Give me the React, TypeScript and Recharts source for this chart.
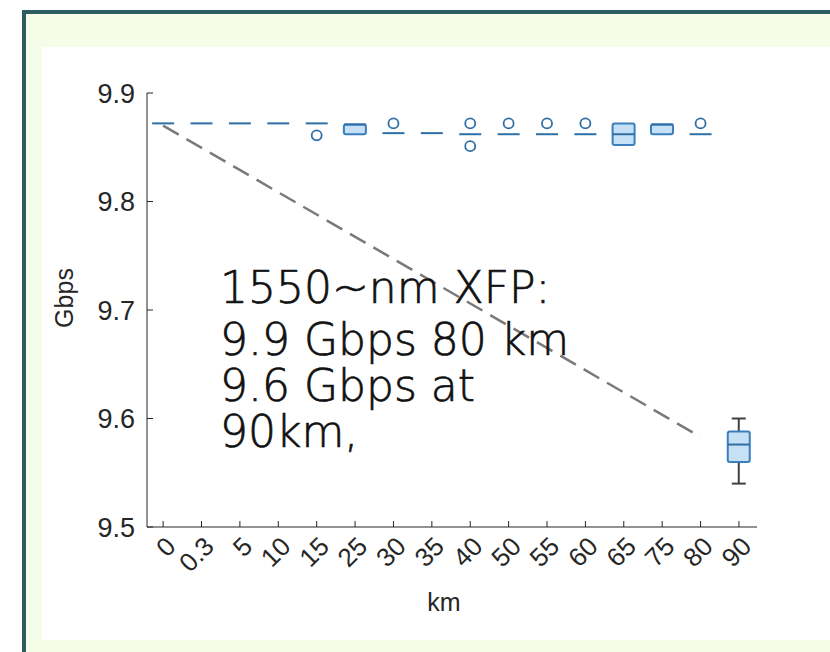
import { ComposedChart, XAxis, YAxis, Bar, Scatter, Line } from 'recharts';

// km categories along the x axis
const kmLabels = ['0', '0.3', '5', '10', '15', '25', '30', '35', '40', '50', '55', '60', '65', '75', '80', '90'];

// box plot statistics (Gbps) per category
const whiskerLow = [9.872, 9.872, 9.872, 9.872, 9.872, 9.862, 9.863, 9.863, 9.862, 9.862, 9.862, 9.862, 9.852, 9.862, 9.862, 9.54];
const boxQ1 = [9.872, 9.872, 9.872, 9.872, 9.872, 9.862, 9.863, 9.863, 9.862, 9.862, 9.862, 9.862, 9.852, 9.862, 9.862, 9.56];
const medians = [9.872, 9.872, 9.872, 9.872, 9.872, 9.871, 9.863, 9.863, 9.862, 9.862, 9.862, 9.862, 9.862, 9.871, 9.862, 9.576];
const boxQ3 = [9.872, 9.872, 9.872, 9.872, 9.872, 9.871, 9.863, 9.863, 9.862, 9.862, 9.862, 9.862, 9.872, 9.871, 9.862, 9.588];
const whiskerHigh = [9.872, 9.872, 9.872, 9.872, 9.872, 9.871, 9.863, 9.863, 9.862, 9.862, 9.862, 9.862, 9.872, 9.871, 9.862, 9.6];

// outliers: category index + value
const outlierIdx = [4, 6, 8, 8, 9, 10, 11, 14];
const outlierVal = [9.861, 9.872, 9.872, 9.851, 9.872, 9.872, 9.872, 9.872];

// dashed trend line
const trendIdx = [0, 14];
const trendVal = [9.87, 9.583];

const yTicks = [9.5, 9.6, 9.7, 9.8, 9.9];
const noteLines = ['1550~nm XFP:', '9.9 Gbps 80 km', '9.6 Gbps at', '90km,'];
const noteBaselines = [256, 308, 354, 400];

const rows = kmLabels.map((km, i) => ({
  idx: i,
  km,
  lo: whiskerLow[i],
  q1: boxQ1[i],
  median: medians[i],
  q3: boxQ3[i],
  hi: whiskerHigh[i],
}));
const outliers = outlierIdx.map((idx, i) => ({ idx, v: outlierVal[i] }));
const trend = trendIdx.map((idx, i) => ({ idx, v: trendVal[i] }));

const BLUE = '#3a7fbd';
const FILL = '#c6e0f5';
const AXIS = '#262626';
const FONT = '"Liberation Sans", Arial, sans-serif';

const BoxShape = (props: any) => {
  const { x, y, width, height, payload } = props;
  const { lo, q1, q3, hi } = payload;
  if (!(hi > lo)) return null;
  const top = Math.min(y, y + height);
  const h = Math.abs(height);
  const py = (v: number) => top + (h * (hi - v)) / (hi - lo);
  const cx = x + width / 2;
  const capW = 7;
  return (
    <g>
      {hi > q3 && (
        <g stroke="#404040" strokeWidth={2}>
          <line x1={cx} x2={cx} y1={py(hi)} y2={py(q3)} />
          <line x1={cx - capW} x2={cx + capW} y1={py(hi)} y2={py(hi)} />
        </g>
      )}
      {q1 > lo && (
        <g stroke="#404040" strokeWidth={2}>
          <line x1={cx} x2={cx} y1={py(q1)} y2={py(lo)} />
          <line x1={cx - capW} x2={cx + capW} y1={py(lo)} y2={py(lo)} />
        </g>
      )}
      <rect x={x} y={py(q3)} width={width} height={py(q1) - py(q3)} rx={2} fill={FILL} stroke={BLUE} strokeWidth={2} />
    </g>
  );
};

const MedianShape = (props: any) => {
  const { cx, cy } = props;
  return <line x1={cx - 11} x2={cx + 11} y1={cy} y2={cy} stroke="#2f6fa8" strokeWidth={2} />;
};

const OutlierShape = (props: any) => {
  const { cx, cy } = props;
  return <circle cx={cx} cy={cy} r={5} fill="none" stroke="#2f6fa8" strokeWidth={1.8} />;
};

const XTick = (props: any) => {
  const { x, y, payload } = props;
  const tx = x + 14;
  const ty = y + 15;
  return (
    <text x={tx} y={ty} transform={`rotate(-45 ${tx} ${ty})`} textAnchor="end" fill={AXIS} fontSize={26} fontFamily={FONT}>
      {kmLabels[payload.value]}
    </text>
  );
};

const GbpsLabel = (props: any) => {
  const { viewBox } = props;
  const lx = viewBox.x + 22;
  const ly = viewBox.y + viewBox.height / 2 - 12;
  return (
    <text x={lx} y={ly} transform={`rotate(-90 ${lx} ${ly})`} textAnchor="middle" dominantBaseline="central" fill={AXIS} fontSize={25} fontFamily={FONT}>
      Gbps
    </text>
  );
};

export default function App() {
  return (
    <div style={{ position: 'fixed', left: 0, top: 0, width: 830, height: 652, background: '#fff', overflow: 'hidden' }}>
      <div style={{ position: 'absolute', left: 22, top: 10, width: 820, height: 660, background: '#2c5d61' }} />
      <div style={{ position: 'absolute', left: 26, top: 14, width: 820, height: 660, background: '#f5fde9' }} />
      <div style={{ position: 'absolute', left: 42, top: 47, width: 788, height: 593, background: '#fff' }}>
        <ComposedChart width={788} height={593} data={rows} margin={{ top: 46, right: 73, bottom: 13, left: 0 }}>
          <XAxis
            dataKey="idx"
            type="number"
            domain={[-0.42, 15.47]}
            ticks={kmLabels.map((_, i) => i)}
            interval={0}
            allowDataOverflow
            height={100}
            tickSize={-6}
            tickMargin={12}
            stroke={AXIS}
            tick={<XTick />}
            label={{ value: 'km', position: 'insideBottom', offset: 16, dx: -8, fill: AXIS, fontSize: 25, fontFamily: FONT }}
          />
          <YAxis
            type="number"
            domain={[9.5, 9.9]}
            ticks={yTicks}
            allowDataOverflow
            width={105}
            tickSize={-6}
            tickMargin={18}
            stroke={AXIS}
            tick={{ fill: AXIS, fontSize: 27, fontFamily: FONT }}
            tickFormatter={(v: number) => v.toFixed(1)}
            label={{ content: <GbpsLabel /> }}
          />
          <Bar dataKey={(d: any) => [d.lo, d.hi]} barSize={22} shape={<BoxShape />} isAnimationActive={false} />
          <Scatter dataKey="median" shape={<MedianShape />} isAnimationActive={false} />
          <Scatter data={outliers} dataKey="v" shape={<OutlierShape />} isAnimationActive={false} />
          <Line data={trend} dataKey="v" stroke="#7a7a7a" strokeWidth={2.5} strokeDasharray="18 9" dot={false} isAnimationActive={false} />
        </ComposedChart>
        <svg width={788} height={593} style={{ position: 'absolute', left: 0, top: 0, pointerEvents: 'none' }}>
          {noteLines.map((t, i) => (
            <text
              key={t}
              x={178}
              y={noteBaselines[i]}
              fontSize={44}
              fontWeight={300}
              fontFamily='"DejaVu Sans", sans-serif'
              fill="#111"
              stroke="#111"
              strokeWidth={0.7}
            >
              {t}
            </text>
          ))}
        </svg>
      </div>
    </div>
  );
}
